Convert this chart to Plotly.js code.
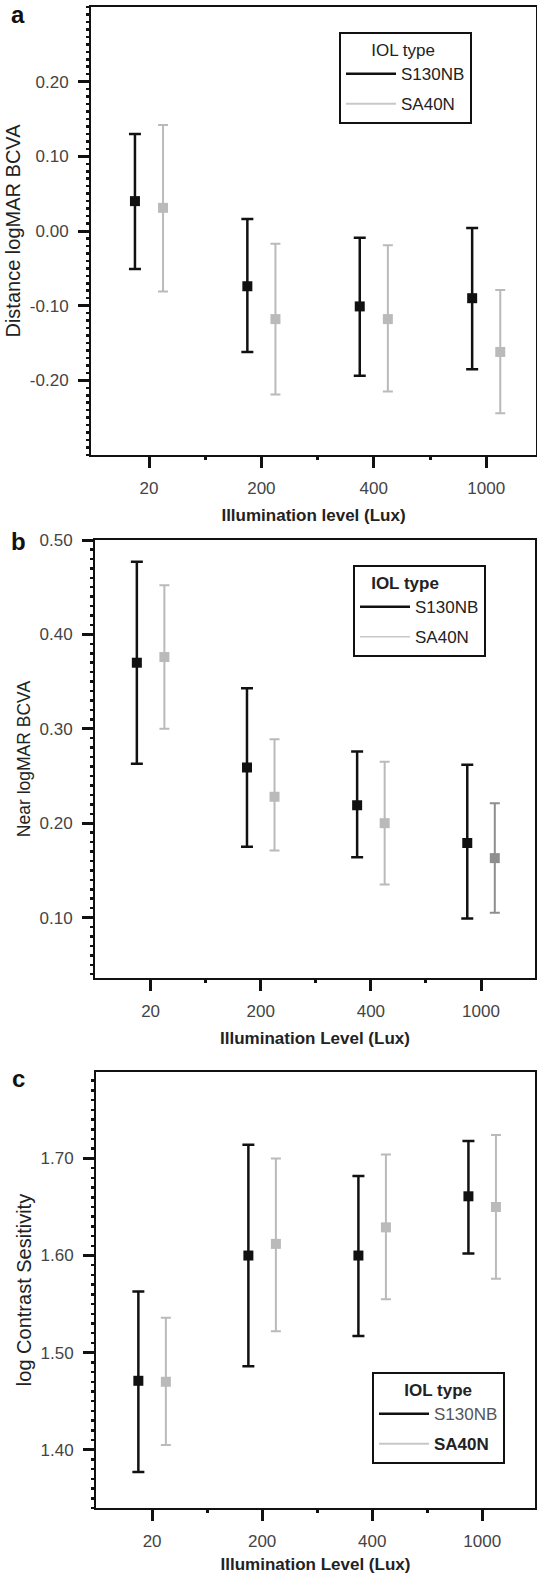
<!DOCTYPE html>
<html>
<head>
<meta charset="utf-8">
<script src="https://cdn.plot.ly/plotly-3.0.1.min.js"></script>
<style>html,body{margin:0;padding:0;background:#fff;}#chart{width:537px;height:1574px;}</style>
</head>
<body>
<div id="chart"></div>
<script>
// ---------- DATA ----------
const categories = ['20', '200', '400', '1000'];
const seriesNames = ['S130NB', 'SA40N'];

// Panel a: Distance logMAR BCVA
const distS130NB_mean  = [0.040, -0.074, -0.101, -0.090];
const distS130NB_upper = [0.130,  0.016, -0.009,  0.004];
const distS130NB_lower = [-0.051, -0.162, -0.194, -0.185];
const distSA40N_mean   = [0.031, -0.118, -0.118, -0.162];
const distSA40N_upper  = [0.142, -0.017, -0.019, -0.079];
const distSA40N_lower  = [-0.081, -0.219, -0.215, -0.244];

// Panel b: Near logMAR BCVA
const nearS130NB_mean  = [0.370, 0.259, 0.219, 0.179];
const nearS130NB_upper = [0.477, 0.343, 0.276, 0.262];
const nearS130NB_lower = [0.263, 0.175, 0.164, 0.099];
const nearSA40N_mean   = [0.376, 0.228, 0.200, 0.163];
const nearSA40N_upper  = [0.452, 0.289, 0.265, 0.221];
const nearSA40N_lower  = [0.300, 0.171, 0.135, 0.105];

// Panel c: log Contrast Sensitivity
const csS130NB_mean  = [1.471, 1.600, 1.600, 1.661];
const csS130NB_upper = [1.563, 1.714, 1.682, 1.718];
const csS130NB_lower = [1.377, 1.486, 1.517, 1.602];
const csSA40N_mean   = [1.470, 1.612, 1.629, 1.650];
const csSA40N_upper  = [1.536, 1.700, 1.704, 1.724];
const csSA40N_lower  = [1.405, 1.522, 1.555, 1.576];

// Tick labels
const yTicksA = [-0.2, -0.1, 0, 0.1, 0.2];
const yTickTextA = ['-0.20', '-0.10', '0.00', '0.10', '0.20'];
const yTicksB = [0.1, 0.2, 0.3, 0.4, 0.5];
const yTickTextB = ['0.10', '0.20', '0.30', '0.40', '0.50'];
const yTicksC = [1.4, 1.5, 1.6, 1.7];
const yTickTextC = ['1.40', '1.50', '1.60', '1.70'];

// ---------- STYLE ----------
const W = 537, H = 1574;
const FONT = 'Liberation Sans, Arial, Helvetica, sans-serif';
const BLACK = '#111111', GREY = '#bababa', MIDGREY = '#8e8e8e';
const OFF = 0.125;
const idx = categories.map((_, i) => i);
const sp = n => '\u00a0'.repeat(n);

function errTrace(mean, upper, lower, offset, color, thick, cap, xa, ya, sel) {
  const ids = sel || idx;
  return {
    type: 'scatter', mode: 'markers',
    x: ids.map(i => i + offset), y: ids.map(i => mean[i]),
    xaxis: xa, yaxis: ya, showlegend: false, hoverinfo: 'skip',
    marker: {symbol: 'square', size: 10, color: color, line: {width: 0}},
    error_y: {type: 'data', symmetric: false,
      array: ids.map(i => upper[i] - mean[i]),
      arrayminus: ids.map(i => mean[i] - lower[i]),
      color: color, thickness: thick, width: cap}
  };
}
function legTrace(name, color, width, leg, grp) {
  return {type: 'scatter', mode: 'lines', x: [null], y: [null], name: name,
    legend: leg, legendgroup: grp, line: {color: color, width: width}, hoverinfo: 'skip'};
}

const traces = [
  errTrace(distS130NB_mean, distS130NB_upper, distS130NB_lower, -OFF, BLACK, 2.5, 6, 'x', 'y'),
  errTrace(distSA40N_mean, distSA40N_upper, distSA40N_lower, OFF, GREY, 2, 5, 'x', 'y'),
  errTrace(nearS130NB_mean, nearS130NB_upper, nearS130NB_lower, -OFF, BLACK, 2.5, 6, 'x2', 'y2'),
  errTrace(nearSA40N_mean, nearSA40N_upper, nearSA40N_lower, OFF, GREY, 2, 5, 'x2', 'y2', [0, 1, 2]),
  errTrace(nearSA40N_mean, nearSA40N_upper, nearSA40N_lower, OFF, MIDGREY, 2, 5, 'x2', 'y2', [3]),
  errTrace(csS130NB_mean, csS130NB_upper, csS130NB_lower, -OFF, BLACK, 2.5, 6, 'x3', 'y3'),
  errTrace(csSA40N_mean, csSA40N_upper, csSA40N_lower, OFF, GREY, 2, 5, 'x3', 'y3'),
  legTrace(seriesNames[0], BLACK, 2.5, 'legend', 'a1'),
  legTrace(seriesNames[1], '#c8c8c8', 2, 'legend', 'a2'),
  legTrace(seriesNames[0], BLACK, 2.5, 'legend2', 'b1'),
  legTrace(seriesNames[1], '#c8c8c8', 1.5, 'legend2', 'b2'),
  legTrace('<span style="color:#555">' + seriesNames[0] + '</span>', BLACK, 2.5, 'legend3', 'c1'),
  legTrace('<b>' + seriesNames[1] + '</b>', '#c8c8c8', 2, 'legend3', 'c2')
];

function xAxis(l, r, range, anchor) {
  return {domain: [l / W, r / W], range: range, anchor: anchor,
    tickvals: idx, ticktext: categories,
    showline: true, mirror: true, linecolor: BLACK, linewidth: 2,
    ticks: 'outside', ticklen: 11, tickwidth: 3, tickcolor: BLACK,
    ticklabelstandoff: 6,
    minor: {tickvals: [0.5, 1.5, 2.5], ticks: 'outside', ticklen: 3, tickwidth: 3, tickcolor: BLACK},
    showgrid: false, zeroline: false, fixedrange: true,
    tickfont: {family: FONT, size: 17, color: '#444'}};
}
function yAxis(top, bottom, range, tv, tt, anchor, title, tsize) {
  return {domain: [1 - bottom / H, 1 - top / H], range: range, anchor: anchor,
    tickvals: tv, ticktext: tt,
    showline: true, mirror: true, linecolor: BLACK, linewidth: 2,
    ticks: 'outside', ticklen: 11, tickwidth: 3, tickcolor: BLACK,
    ticklabelstandoff: 6,
    minor: {dtick: 0.01, tick0: 0, ticks: 'outside', ticklen: 3, tickwidth: 2.5, tickcolor: BLACK},
    showgrid: false, zeroline: false, fixedrange: true,
    tickfont: {family: FONT, size: 17, color: '#444'},
    title: {text: title, font: {family: FONT, size: tsize, color: '#222'}, standoff: 4}};
}
function xTitle(t) { return {text: '<b>' + t + '</b>', font: {family: FONT, size: 17, color: '#222'}, standoff: 12}; }

function legend(lx, ty, title) {
  return {x: lx / W, y: 1 - ty / H, xanchor: 'left', yanchor: 'top', xref: 'paper', yref: 'paper',
    bordercolor: BLACK, borderwidth: 2, bgcolor: '#fff',
    font: {family: FONT, size: 17, color: '#222'},
    title: {text: title, font: {family: FONT, size: 17, color: '#222'}},
    traceorder: 'grouped', tracegroupgap: 5, itemwidth: 50};
}

const xa = xAxis(91, 536, [-0.516, 3.443], 'y');
xa.title = xTitle('Illumination level (Lux)');
const xb = xAxis(95, 535, [-0.505, 3.49], 'y2');
xb.title = xTitle('Illumination Level (Lux)');
const xc = xAxis(96, 535, [-0.51, 3.48], 'y3');
xc.title = xTitle('Illumination Level (Lux)');

const layout = {
  width: W, height: H, margin: {l: 0, r: 0, t: 0, b: 0},
  paper_bgcolor: '#fff', plot_bgcolor: '#fff',
  font: {family: FONT, color: '#222'},
  xaxis: xa, xaxis2: xb, xaxis3: xc,
  yaxis: yAxis(7, 455, [-0.30, 0.30], yTicksA, yTickTextA, 'x', 'Distance logMAR BCVA', 20),
  yaxis2: yAxis(540, 978, [0.036, 0.50], yTicksB, yTickTextB, 'x2', 'Near logMAR BCVA', 17.5),
  yaxis3: yAxis(1072, 1508, [1.34, 1.789], yTicksC, yTickTextC, 'x3', 'log Contrast Sesitivity', 20),
  legend: legend(339, 32, sp(6) + 'IOL type'),
  legend2: legend(353, 565, '<b>' + sp(3) + 'IOL type</b>'),
  legend3: legend(372, 1372, '<b>' + sp(6) + 'IOL type</b>'),
  annotations: [
    {text: '<b>a</b>', x: 18 / W, y: 1 - 15 / H},
    {text: '<b>b</b>', x: 18 / W, y: 1 - 541 / H},
    {text: '<b>c</b>', x: 18 / W, y: 1 - 1078 / H}
  ].map(a => Object.assign(a, {xref: 'paper', yref: 'paper', showarrow: false,
    xanchor: 'center', yanchor: 'middle', font: {family: FONT, size: 24, color: '#111'}}))
};

Plotly.newPlot('chart', traces, layout, {displayModeBar: false, staticPlot: true});
</script>
</body>
</html>
